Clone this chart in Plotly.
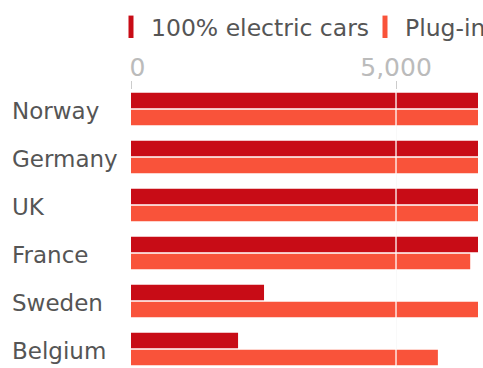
import plotly.graph_objects as go

countries = ["Norway", "Germany", "UK", "France", "Sweden", "Belgium"]
bev = [15700, 9000, 8000, 6800, 2510, 2020]
phev = [8000, 7500, 10000, 6400, 7500, 5790]
series_names = ["100% electric cars", "Plug-in hybrids"]
tick_vals = [0, 5000]
tick_text = ["\u00a0\u20090", "5,000"]

RED = "#c80c16"
ORANGE = "#f9533a"
FONT = "DejaVu Sans"
W, H = 483, 368
ML, MR, MT = 131, 5, 90
PW = W - ML - MR

fig = go.Figure()
fig.add_trace(go.Bar(y=countries, x=bev, orientation="h", name=series_names[0],
                     marker=dict(color=RED, line=dict(width=0)), showlegend=False))
fig.add_trace(go.Bar(y=countries, x=phev, orientation="h", name=series_names[1],
                     marker=dict(color=ORANGE, line=dict(width=0)), showlegend=False))

# legend entries drawn as tall pill-like swatches
for name, col, leg in [(series_names[0], RED, "legend"), (series_names[1], ORANGE, "legend2")]:
    fig.add_trace(go.Scatter(x=[None], y=[None], mode="markers", name=name, legend=leg,
                             marker=dict(symbol="line-ns", size=20, color=col,
                                         line=dict(width=6, color=col))))

for v in tick_vals[1:]:
    fig.add_shape(type="line", xref="x", yref="paper", x0=v, x1=v, y0=0, y1=1,
                  line=dict(color="rgba(255,255,255,0.85)", width=1.5), layer="above")

for c in countries:
    fig.add_annotation(text=c, x=(10 - ML) / PW, xref="paper", xanchor="left",
                       y=c, yref="y", yanchor="middle", yshift=-2, showarrow=False,
                       font=dict(family=FONT, size=23, color="#555555"))

leg_common = dict(orientation="h", yref="container", y=1 - 27 / H, yanchor="middle",
                  font=dict(family=FONT, size=23.5, color="#555555"), itemwidth=30,
                  itemsizing="trace", bgcolor="rgba(0,0,0,0)")

fig.update_layout(
    width=W, height=H,
    margin=dict(l=ML, r=MR, t=MT, b=0, autoexpand=False),
    paper_bgcolor="white", plot_bgcolor="white",
    barmode="group", bargap=0.292, bargroupgap=0.1,
    font=dict(family=FONT, color="#555555", size=23),
    showlegend=True,
    legend=dict(x=(111 - ML) / PW, xanchor="left", **leg_common),
    legend2=dict(x=(365 - ML) / PW, xanchor="left", **leg_common),
    xaxis=dict(side="top", range=[0, 6547], tickvals=tick_vals, ticktext=tick_text,
               ticks="outside", ticklen=8, tickcolor="#cccccc", tickwidth=1,
               tickfont=dict(family=FONT, size=25, color="#bbbbbb"),
               ticklabelstandoff=-5,
               showgrid=True, gridcolor="#eeeeee", zeroline=False, showline=False,
               automargin=False, fixedrange=True),
    yaxis=dict(autorange=False, range=[5.396, -0.396], showticklabels=False,
               ticks="", showgrid=False, zeroline=False, showline=False,
               automargin=False, fixedrange=True),
)

fig.write_html("out.html", config={"displayModeBar": False},
               post_script="document.body.style.margin='0';document.body.style.overflow='hidden';")
